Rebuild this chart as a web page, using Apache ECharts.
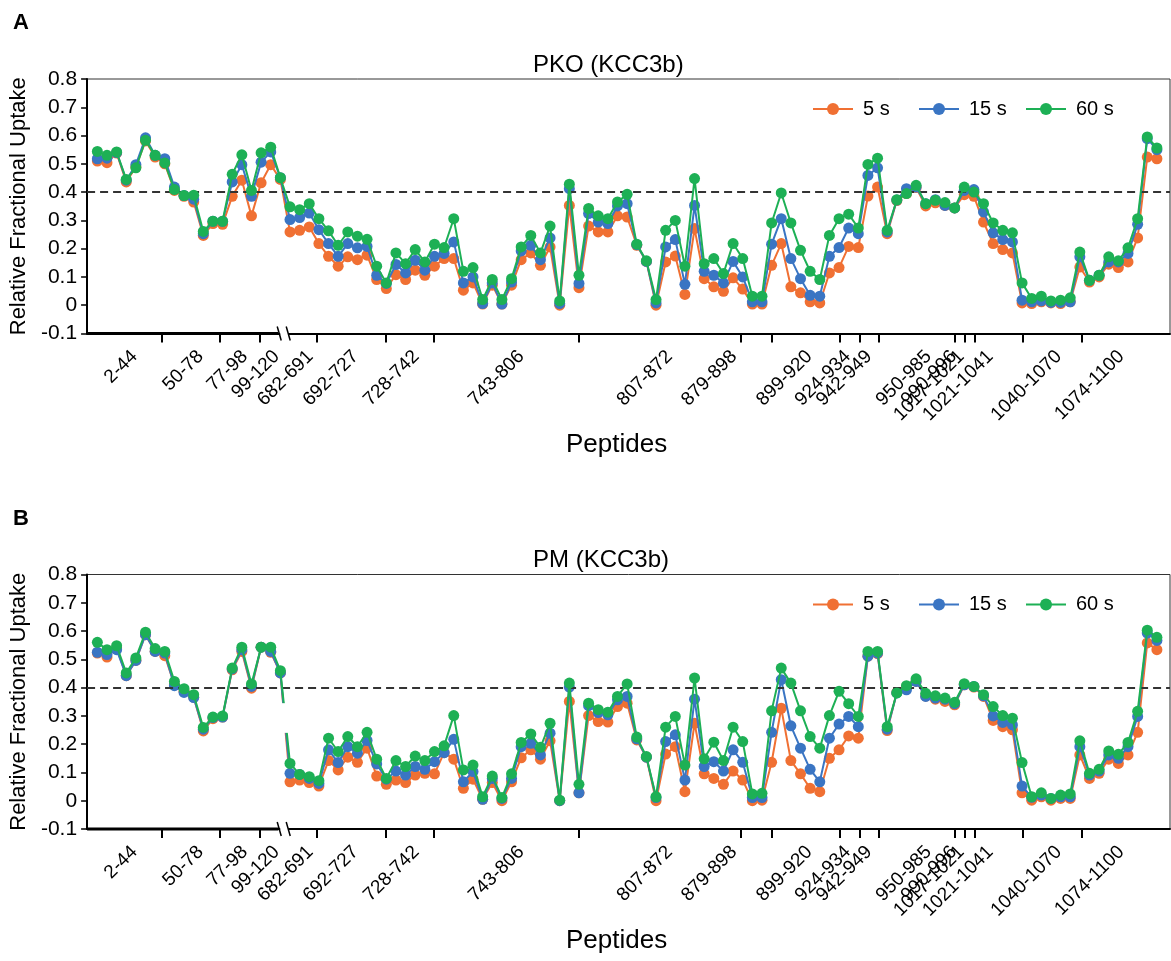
<!DOCTYPE html>
<html><head><meta charset="utf-8">
<script src="https://cdn.jsdelivr.net/npm/echarts@6/dist/echarts.min.js"></script>
<style>html,body{margin:0;padding:0;background:#fff}#c{width:1171px;height:961px}</style>
</head><body><div id="c"></div>
<script>
// ---- data ----
const seriesNames = ['5 s', '15 s', '60 s'];
const panelTitles = ['PKO (KCC3b)', 'PM (KCC3b)'];
const peptideLabels = ['2-44','50-78','77-98','99-120','682-691','692-727','728-742','743-806','807-872','879-898','899-920','924-934','942-949','950-985','990-996','1017-1021','1021-1041','1040-1070','1074-1100'];
// label anchor positions and group boundary ticks, in peptide-index units
const labelPos = [3.85,10.7,15.3,18.6,22.1,26.8,33.1,44.0,59.4,66.1,73.9,77.9,80.1,86.3,88.9,89.7,92.7,99.8,106.3];
const tickPos = [6.7,12.7,16.9,22.8,29.9,34.9,50.0,66.8,70.0,77.1,79.1,81.1,89.0,90.0,91.1,96.1,102.2];
const breakPos = 19.4;
const threshold = 0.4;

const pko5 = [0.510,0.504,0.538,0.436,0.489,0.581,0.524,0.500,0.406,0.385,0.365,0.247,0.289,0.286,0.385,0.442,0.316,0.433,0.497,0.445,
0.259,0.265,0.277,0.218,0.173,0.138,0.171,0.161,0.177,0.091,0.059,0.108,0.091,0.124,0.106,0.138,0.165,0.165,0.053,0.079,
0.004,0.071,0.004,0.071,0.161,0.185,0.141,0.206,0.000,0.353,0.062,0.280,0.259,0.259,0.316,0.312,0.212,0.155,0.000,0.153,
0.174,0.038,0.271,0.094,0.065,0.049,0.097,0.057,0.004,0.004,0.141,0.218,0.065,0.044,0.012,0.008,0.114,0.133,0.208,0.204,
0.386,0.418,0.253,0.370,0.395,0.416,0.351,0.362,0.353,0.344,0.391,0.385,0.294,0.218,0.197,0.185,0.008,0.006,0.012,0.008,
0.006,0.012,0.135,0.082,0.100,0.145,0.133,0.153,0.238,0.524,0.518];
const pko15 = [0.518,0.520,0.540,0.442,0.497,0.592,0.530,0.518,0.418,0.388,0.375,0.253,0.297,0.297,0.436,0.497,0.385,0.506,0.542,0.451,
0.303,0.310,0.326,0.267,0.218,0.173,0.218,0.203,0.208,0.106,0.077,0.144,0.114,0.159,0.124,0.173,0.183,0.224,0.079,0.100,
0.006,0.079,0.004,0.082,0.192,0.212,0.161,0.238,0.006,0.412,0.077,0.324,0.294,0.289,0.351,0.359,0.214,0.155,0.008,0.206,
0.232,0.074,0.353,0.120,0.106,0.079,0.155,0.100,0.012,0.012,0.216,0.306,0.165,0.094,0.035,0.032,0.173,0.204,0.273,0.253,
0.459,0.486,0.259,0.372,0.412,0.418,0.359,0.373,0.353,0.344,0.406,0.409,0.330,0.256,0.232,0.224,0.018,0.012,0.015,0.010,
0.010,0.012,0.171,0.088,0.106,0.153,0.153,0.183,0.286,0.589,0.550];
const pko60 = [0.544,0.530,0.542,0.445,0.486,0.583,0.530,0.503,0.409,0.388,0.389,0.261,0.297,0.297,0.463,0.532,0.406,0.539,0.559,0.451,
0.348,0.338,0.359,0.306,0.263,0.212,0.259,0.244,0.233,0.138,0.079,0.185,0.147,0.197,0.153,0.216,0.204,0.306,0.120,0.133,
0.020,0.091,0.020,0.094,0.206,0.247,0.185,0.280,0.015,0.428,0.106,0.342,0.316,0.306,0.365,0.392,0.216,0.157,0.020,0.265,
0.300,0.138,0.448,0.147,0.165,0.112,0.218,0.165,0.032,0.032,0.291,0.397,0.291,0.194,0.120,0.091,0.247,0.306,0.322,0.273,
0.498,0.520,0.265,0.373,0.395,0.424,0.359,0.371,0.363,0.344,0.418,0.400,0.359,0.291,0.265,0.256,0.079,0.024,0.032,0.015,
0.018,0.026,0.188,0.088,0.106,0.171,0.157,0.203,0.306,0.595,0.556];
const pm5 = [0.522,0.508,0.540,0.442,0.496,0.587,0.528,0.513,0.410,0.387,0.366,0.247,0.290,0.296,0.463,0.528,0.398,0.543,0.525,0.452,
0.067,0.073,0.064,0.052,0.142,0.109,0.154,0.136,0.186,0.087,0.058,0.073,0.064,0.091,0.097,0.095,0.170,0.147,0.044,0.076,
0.005,0.064,0.000,0.067,0.152,0.180,0.147,0.212,0.000,0.351,0.028,0.301,0.280,0.278,0.333,0.345,0.215,0.154,0.000,0.165,
0.191,0.032,0.274,0.095,0.079,0.058,0.105,0.073,0.000,0.002,0.136,0.327,0.142,0.095,0.044,0.032,0.150,0.180,0.229,0.221,
0.511,0.520,0.248,0.383,0.402,0.422,0.370,0.359,0.351,0.339,0.410,0.402,0.369,0.284,0.262,0.251,0.028,0.002,0.014,0.002,
0.008,0.008,0.162,0.079,0.097,0.147,0.132,0.162,0.242,0.558,0.534];
const pm15 = [0.525,0.517,0.534,0.442,0.496,0.587,0.528,0.522,0.407,0.383,0.365,0.253,0.294,0.296,0.466,0.534,0.404,0.543,0.528,0.452,
0.097,0.093,0.079,0.061,0.180,0.135,0.191,0.168,0.213,0.130,0.076,0.105,0.091,0.121,0.111,0.138,0.170,0.217,0.067,0.103,
0.005,0.079,0.008,0.079,0.191,0.203,0.162,0.239,0.000,0.402,0.028,0.336,0.312,0.304,0.357,0.369,0.219,0.154,0.011,0.209,
0.233,0.073,0.359,0.121,0.138,0.105,0.180,0.136,0.011,0.011,0.242,0.428,0.265,0.186,0.111,0.067,0.221,0.271,0.298,0.262,
0.511,0.522,0.253,0.381,0.392,0.422,0.369,0.363,0.359,0.343,0.410,0.404,0.371,0.300,0.277,0.268,0.052,0.012,0.020,0.008,
0.014,0.014,0.191,0.091,0.105,0.162,0.150,0.191,0.298,0.593,0.567];
const pm60 = [0.560,0.534,0.548,0.452,0.505,0.596,0.538,0.528,0.422,0.396,0.375,0.259,0.296,0.300,0.469,0.543,0.413,0.543,0.543,0.460,
0.132,0.093,0.085,0.071,0.221,0.174,0.227,0.191,0.242,0.147,0.079,0.142,0.121,0.158,0.142,0.174,0.194,0.301,0.109,0.126,
0.014,0.087,0.011,0.095,0.206,0.236,0.189,0.274,0.002,0.416,0.058,0.345,0.322,0.313,0.369,0.413,0.225,0.156,0.014,0.260,
0.298,0.126,0.434,0.148,0.207,0.142,0.260,0.209,0.024,0.026,0.318,0.469,0.416,0.318,0.227,0.186,0.301,0.387,0.343,0.298,
0.528,0.528,0.262,0.381,0.407,0.431,0.380,0.371,0.363,0.348,0.414,0.404,0.375,0.333,0.301,0.292,0.135,0.014,0.028,0.008,
0.020,0.024,0.212,0.097,0.111,0.176,0.164,0.206,0.316,0.603,0.578];

// ---- chart ----
const colors = ['#F07033', '#3A75C3', '#1DB055'];
const FONT = '"Liberation Sans", Arial, sans-serif';
const panels = [[pko5, pko15, pko60], [pm5, pm15, pm60]];
const gridTops = [79, 574.5];
const GRID_H = 254.5;
const legendLefts = [812, 918, 1025];

const chart = echarts.init(document.getElementById('c'), null, {renderer: 'canvas'});

function toPoints(arr) { return arr.map((v, i) => [i, v]); }

const grids = [], xAxes = [], yAxes = [], series = [], legends = [], titles = [];
gridTops.forEach((top, gi) => {
  grids.push({left: 84, top: top, width: 1086, height: GRID_H, show: true, borderColor: '#333', borderWidth: 1, containLabel: false});
  xAxes.push({
    type: 'value', gridIndex: gi, min: -1.066, max: 111.36,
    axisLine: {show: true, onZero: false, lineStyle: {color: '#000', width: 2}},
    axisTick: {show: true, customValues: tickPos, length: 9, lineStyle: {color: '#000', width: 2}},
    axisLabel: {show: true, customValues: labelPos, rotate: 45, margin: 20, fontSize: 19, color: '#000', fontFamily: FONT,
      formatter: v => { const k = labelPos.findIndex(p => Math.abs(p - v) < 1e-6); return k >= 0 ? peptideLabels[k] : ''; }},
    splitLine: {show: false}
  });
  yAxes.push({
    type: 'value', gridIndex: gi, min: -0.1, max: 0.8, interval: 0.1,
    name: 'Relative Fractional Uptake', nameLocation: 'middle', nameGap: 47,
    nameTextStyle: {fontSize: 22, color: '#000', fontFamily: FONT},
    axisLine: {show: true, onZero: false, lineStyle: {color: '#000', width: 2}},
    axisTick: {show: true, length: 6, lineStyle: {color: '#000', width: 1.5}},
    axisLabel: {fontSize: 21, color: '#000', margin: 10, fontFamily: FONT,
      formatter: v => { const r = Math.round(v * 10) / 10; return r === 0 ? '0' : r.toFixed(1); }},
    splitLine: {show: false}
  });
  panels[gi].forEach((arr, si) => {
    const s = {
      name: seriesNames[si], type: 'line', xAxisIndex: gi, yAxisIndex: gi,
      data: toPoints(arr), symbol: 'circle', symbolSize: 11, showSymbol: true,
      lineStyle: {color: colors[si], width: 2}, itemStyle: {color: colors[si]},
      z: 3 + si, animation: false
    };
    if (si === 0) {
      s.markLine = {silent: true, symbol: 'none', label: {show: false}, animation: false,
        lineStyle: {type: [8, 5], color: '#333', width: 2}, data: [{yAxis: threshold}]};
    }
    series.push(s);
  });
  seriesNames.forEach((nm, k) => {
    legends.push({
      data: [nm], left: legendLefts[k], top: top + 20, padding: 0, orient: 'horizontal', itemWidth: 40, itemHeight: 15,
      textStyle: {fontSize: 20, color: '#000', fontFamily: FONT, padding: [0, 0, 0, 5]},
      selectedMode: false
    });
  });
  titles.push({text: panelTitles[gi], left: 528, top: top - 31, textStyle: {fontSize: 24, fontWeight: 'normal', color: '#000', fontFamily: FONT}});
  titles.push({text: 'Peptides', left: 561, top: top + 348, textStyle: {fontSize: 26, fontWeight: 'normal', color: '#000', fontFamily: FONT}});
  titles.push({text: gi === 0 ? 'A' : 'B', left: 8, top: top - 72, textStyle: {fontSize: 22, fontWeight: 'bold', color: '#000', fontFamily: FONT}});
});

chart.setOption({
  animation: false,
  backgroundColor: '#fff',
  title: titles, legend: legends, grid: grids, xAxis: xAxes, yAxis: yAxes, series: series
});

// axis break markers, bold first axis segment and line gap (panel B), placed through the axis scales
const graphics = [];
[0, 1].forEach(gi => {
  const p = chart.convertToPixel({gridIndex: gi}, [breakPos, -0.1]);
  const s0 = chart.convertToPixel({gridIndex: gi}, [-1.066, -0.1]);
  graphics.push({type: 'line', shape: {x1: s0[0], y1: s0[1], x2: p[0] - 6, y2: p[1]}, style: {stroke: '#000', lineWidth: 3.2}, z: 99});
  graphics.push({type: 'rect', shape: {x: p[0] - 4, y: p[1] - 3, width: 8, height: 6}, style: {fill: '#fff'}, z: 100});
  graphics.push({type: 'line', shape: {x1: p[0] - 7, y1: p[1] - 7, x2: p[0] - 3, y2: p[1] + 7}, style: {stroke: '#000', lineWidth: 1.5}, z: 101});
  graphics.push({type: 'line', shape: {x1: p[0] + 2, y1: p[1] - 7, x2: p[0] + 6, y2: p[1] + 7}, style: {stroke: '#000', lineWidth: 1.5}, z: 101});
});
const a = chart.convertToPixel({gridIndex: 1}, [18.5, 0.345]);
const b = chart.convertToPixel({gridIndex: 1}, [20.8, 0.24]);
graphics.push({type: 'rect', shape: {x: a[0], y: a[1], width: b[0] - a[0], height: b[1] - a[1]}, style: {fill: '#fff'}, z: 100});
chart.setOption({graphic: graphics});
</script></body></html>
